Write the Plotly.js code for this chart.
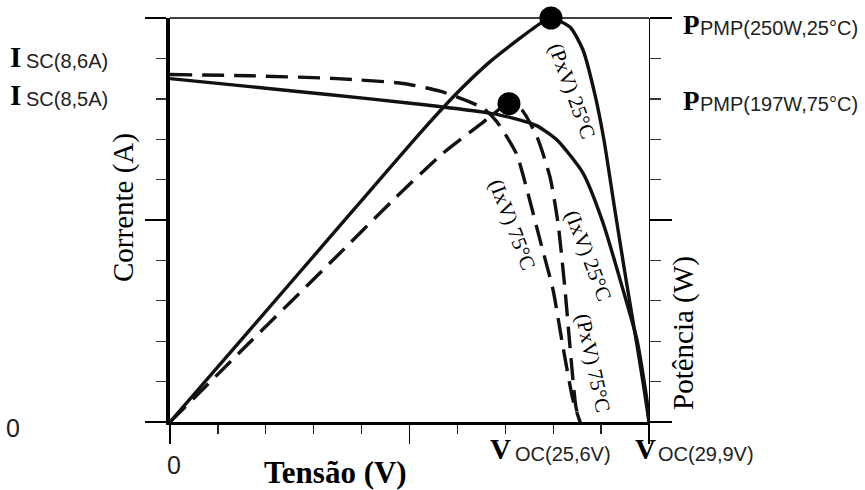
<!DOCTYPE html>
<html>
<head>
<meta charset="utf-8">
<script src="https://cdn.plot.ly/plotly-3.0.1.min.js"></script>
<style>
  html, body { margin: 0; padding: 0; background: #fff; }
  #chart { width: 865px; height: 490px; }
</style>
</head>
<body>
<div id="chart"></div>
<script>
// Curva I x V a 25 °C (tensão em V, corrente em A)
const V_IV25 = [0, 5, 10, 15, 19.54, 21.22, 22.91, 24.16, 25.78, 27.03, 28.28, 29.15, 29.77, 29.9];
const I_IV25 = [8.5, 8.3, 8.1, 7.89, 7.67, 7.54, 7.33, 6.98, 6.16, 4.93, 3.27, 2.03, 0.54, 0];

// Curva I x V a 75 °C
const V_IV75 = [0, 5, 10.42, 14.54, 16.85, 18.41, 19.54, 20.41, 21.04, 21.66, 22.29, 23.10, 23.91, 24.53, 25.16, 25.6];
const I_IV75 = [8.6, 8.57, 8.50, 8.38, 8.19, 7.97, 7.77, 7.43, 7.05, 6.61, 5.74, 4.50, 3.27, 1.86, 0.54, 0];

// Curva P x V a 25 °C (potência em W)
const V_PV25 = [0, 5, 10, 15.79, 18.10, 19.98, 21.85, 23.10, 23.78, 24.97, 25.78, 26.53, 27.09, 27.72, 28.47, 29.15, 29.65, 29.9];
const P_PV25 = [0, 57.2, 114.5, 180.8, 205.4, 223.0, 237.5, 246.5, 250, 244.4, 230.2, 202.4, 174.5, 134.3, 87.9, 47.6, 16.7, 0];

// Curva P x V a 75 °C
const V_PV75 = [0, 5, 10, 14, 17, 19.35, 21.16, 21.97, 22.91, 23.72, 24.22, 24.66, 24.97, 25.34, 25.6];
const P_PV75 = [0, 49.5, 98.5, 138, 166, 184, 197, 193, 176.4, 151.6, 123.1, 81.7, 46.4, 9.3, 0];

// Pontos de máxima potência
const V_PMP = [23.78, 21.16];
const P_PMP = [250, 197];

// Valores característicos
const VOC = 29.9;
const IMAX = 10;
const PMAX = 250;

const INK = '#111';
const SERIF = 'Liberation Serif, Times New Roman, serif';
const SANS = 'Liberation Sans, Arial, sans-serif';

const curve = (x, y, yaxis, dash) => ({
  type: 'scatter', mode: 'lines', x, y, yaxis,
  line: { color: INK, width: 3.4, dash, shape: 'spline', smoothing: 0.6 },
  hoverinfo: 'skip'
});

const traces = [
  curve(V_IV25, I_IV25, 'y', 'solid'),
  curve(V_IV75, I_IV75, 'y', '22px,10px'),
  curve(V_PV25, P_PV25, 'y2', 'solid'),
  curve(V_PV75, P_PV75, 'y2', '22px,10px'),
  {
    type: 'scatter', mode: 'markers', x: V_PMP, y: P_PMP, yaxis: 'y2',
    marker: { color: '#000', size: 23, symbol: 'circle' },
    cliponaxis: false, hoverinfo: 'skip'
  }
];

// Geometria da área de plotagem (px)
const M = { l: 170, r: 216, t: 18, b: 68 };
const PW = 865 - M.l - M.r;
const PH = 490 - M.t - M.b;
const fx = x => (x - M.l) / PW;
const fy = y => (490 - M.b - y) / PH;

function note(text, x, y, font, extra) {
  return Object.assign({
    text, xref: 'paper', yref: 'paper', x: fx(x), y: fy(y),
    xanchor: 'left', yanchor: 'middle', showarrow: false, font
  }, extra || {});
}
const big = { family: SERIF, size: 29, color: '#000', weight: 'bold' };
const bigP = { family: SERIF, size: 27, color: '#000', weight: 'bold' };
const sub = { family: SANS, size: 20, color: '#222' };
const curveFont = { family: SERIF, size: 21, color: '#000' };
const titleFont = { family: SERIF, size: 29, color: '#000' };

const annotations = [
  note('I', 8, 57, big), note('SC(8,6A)', 24, 61, sub),
  note('I', 8, 95, big), note('SC(8,5A)', 24, 99, sub),
  note('P', 681, 25, bigP), note('PMP(250W,25°C)', 698, 28, sub),
  note('P', 681, 101, bigP), note('PMP(197W,75°C)', 698, 104, sub),
  note('V', 488, 449, big), note('OC(25,6V)', 513, 454, sub),
  note('V', 633, 449, big), note('OC(29,9V)', 656, 454, sub),
  note('0', 13, 428, { family: SANS, size: 25, color: '#222' }, { xanchor: 'center' }),
  note('0', 174, 465, { family: SANS, size: 25, color: '#222' }, { xanchor: 'center' }),
  note('Tensão (V)', 335, 472, { family: SERIF, size: 31, color: '#000', weight: 'bold' }, { xanchor: 'center' }),
  note('Corrente (A)', 123, 208, titleFont, { xanchor: 'center', textangle: -90 }),
  note('Potência (W)', 683, 333, titleFont, { xanchor: 'center', textangle: -90 }),
  note('(PxV) 25°C', 572, 91, curveFont, { xanchor: 'center', textangle: 70 }),
  note('(IxV) 25°C', 588, 255, curveFont, { xanchor: 'center', textangle: 69 }),
  note('(PxV) 75°C', 593, 363, curveFont, { xanchor: 'center', textangle: 78 }),
  note('(IxV) 75°C', 512, 224, curveFont, { xanchor: 'center', textangle: 69 })
];

const tickCommon = {
  ticks: 'outside', tickcolor: '#000', tickwidth: 1.6,
  showticklabels: false, showgrid: false, zeroline: false, fixedrange: true
};

const layout = {
  width: 865, height: 490,
  margin: M,
  paper_bgcolor: '#fff', plot_bgcolor: '#fff',
  showlegend: false, hovermode: false,
  xaxis: Object.assign({}, tickCommon, {
    range: [0, VOC], showline: true, linecolor: '#000', linewidth: 3,
    tickmode: 'linear', tick0: 0, dtick: VOC / 2, ticklen: 19,
    minor: { tickmode: 'linear', tick0: 0, dtick: VOC / 10, ticklen: 9, tickwidth: 1.4, tickcolor: '#222', ticks: 'outside' }
  }),
  yaxis: Object.assign({}, tickCommon, {
    range: [0, IMAX], showline: true, linecolor: '#000', linewidth: 4,
    tickmode: 'linear', tick0: 0, dtick: IMAX / 2, ticklen: 21,
    minor: { tickmode: 'linear', tick0: 0, dtick: IMAX / 10, ticklen: 10, tickwidth: 1.4, tickcolor: '#333', ticks: 'outside' }
  }),
  yaxis2: Object.assign({}, tickCommon, {
    range: [0, PMAX], overlaying: 'y', side: 'right',
    showline: true, linecolor: '#000', linewidth: 1.3,
    tickmode: 'linear', tick0: 0, dtick: PMAX / 2, ticklen: 22,
    minor: { tickmode: 'linear', tick0: 0, dtick: PMAX / 10, ticklen: 11, tickwidth: 1.4, tickcolor: '#333', ticks: 'outside' }
  }),
  shapes: [
    // moldura superior
    { type: 'line', xref: 'paper', yref: 'paper', x0: 0, x1: 1, y0: 1, y1: 1, line: { color: '#000', width: 1.3 } }
  ],
  annotations
};

Plotly.newPlot('chart', traces, layout, { staticPlot: true, displayModeBar: false });
</script>
</body>
</html>
